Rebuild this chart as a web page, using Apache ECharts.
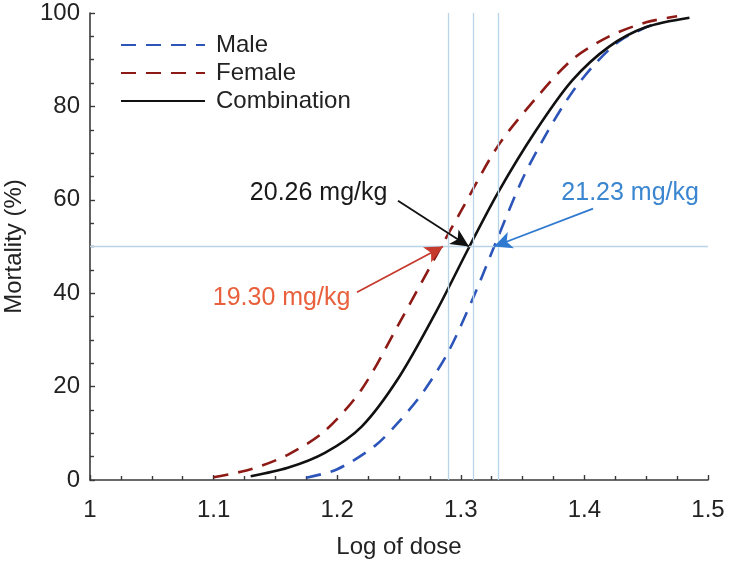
<!DOCTYPE html>
<html>
<head>
<meta charset="utf-8">
<script src="https://cdn.jsdelivr.net/npm/echarts@6/dist/echarts.min.js"></script>
<style>html,body{margin:0;padding:0;background:#fff}#c{width:729px;height:564px}</style>
</head>
<body>
<div id="c"></div>
<script>
// ---- data ----
const seriesNames = ['Male', 'Female', 'Combination'];
const maleX = [1.175, 1.20, 1.23, 1.25, 1.27, 1.29, 1.31, 1.327, 1.35, 1.37, 1.39, 1.41, 1.43, 1.455];
const maleY = [0.5, 2.3, 7.2, 12.5, 19, 27.5, 39, 50, 64.5, 74.5, 83, 89.5, 94.3, 97.5];
const femaleX = [1.10, 1.13, 1.16, 1.19, 1.22, 1.25, 1.28, 1.30, 1.33, 1.36, 1.39, 1.42, 1.45, 1.475];
const femaleY = [0.6, 2.3, 5.4, 10.5, 19.5, 33.5, 48, 57.5, 71.5, 81.5, 90, 95, 98, 99.3];
const comboX = [1.13, 1.16, 1.19, 1.22, 1.25, 1.28, 1.307, 1.33, 1.36, 1.39, 1.42, 1.45, 1.485];
const comboY = [0.8, 2.6, 5.8, 11.5, 22, 36, 50, 61.5, 74.5, 85.5, 92.8, 97, 99];
// LD50 reference values (log dose) and the 50% line
const ld50Log = [1.2856, 1.3066, 1.3269];
const ld50Labels = ['19.30 mg/kg', '20.26 mg/kg', '21.23 mg/kg'];
const midMortality = 50;
// annotation label anchors [x, y] and arrow tails [x, y]
const labelAnchors = [[1.155, 38.9], [1.185, 61.5], [1.437, 61.5]];
const arrowTails = [[1.216, 40.2], [1.2492, 59.8], [1.407, 58.1]];

const xMin = 1, xMax = 1.5, xInterval = 0.1;
const yMin = 0, yMax = 100, yInterval = 20;

// ---- styles ----
const FONT = '"Liberation Sans", Arial, sans-serif';
const colMale = '#2d55b9', colFemale = '#8e1a16', colCombo = '#111111';
const refCol = '#b9d4e8';
const labelCols = ['#e8603c', '#1a1a1a', '#3a86d0'];
const arrowCols = ['#c63a2e', '#111111', '#2f7ad0'];

const zip = (xs, ys) => xs.map((x, i) => [x, ys[i]]);

const chart = echarts.init(document.getElementById('c'), null, {renderer: 'canvas'});

const axisCommon = {
  axisLine: {show: true, lineStyle: {color: '#3a3a3a', width: 1.6}},
  axisTick: {show: true, inside: true, length: 5, lineStyle: {color: '#3a3a3a', width: 1.4}},
  minorTick: {show: true, splitNumber: 4, length: 4, lineStyle: {color: '#3a3a3a', width: 1.4}},
  splitLine: {show: false},
  minorSplitLine: {show: false},
  axisLabel: {fontFamily: FONT, fontSize: 24, color: '#222'},
  nameTextStyle: {fontFamily: FONT, fontSize: 24, color: '#222'}
};

const lineSeries = (name, xs, ys, color, dashed, z) => ({
  name, type: 'line', data: zip(xs, ys), smooth: 0.3,
  symbol: 'none', showSymbol: false, z,
  lineStyle: {color, width: 2.6, type: dashed ? [15, 10] : 'solid'},
  itemStyle: {color}
});

const option = {
  animation: false,
  backgroundColor: '#fff',
  grid: {left: 90, right: 21, top: 13, bottom: 84, containLabel: false, outerBoundsMode: 'none'},
  legend: {
    orient: 'vertical', left: 120, top: 33, padding: 0,
    itemWidth: 84, itemHeight: 14, itemGap: 4,
    data: seriesNames,
    itemStyle: {opacity: 0},
    textStyle: {fontFamily: FONT, fontSize: 24, color: '#222', padding: [0, 0, 0, 6]}
  },
  xAxis: Object.assign({}, axisCommon, {
    type: 'value', min: xMin, max: xMax, interval: xInterval,
    name: 'Log of dose', nameLocation: 'middle', nameGap: 55,
    axisLabel: Object.assign({}, axisCommon.axisLabel, {margin: 18,
      formatter: v => String(Math.round(v * 10) / 10)})
  }),
  yAxis: Object.assign({}, axisCommon, {
    type: 'value', min: yMin, max: yMax, interval: yInterval,
    name: 'Mortality (%)', nameLocation: 'middle', nameGap: 64,
    axisLabel: Object.assign({}, axisCommon.axisLabel, {margin: 10})
  }),
  series: [
    {
      name: 'refs', type: 'line', data: [], z: 1, silent: true,
      markLine: {
        silent: true, symbol: ['none', 'none'], animation: false,
        label: {show: false},
        lineStyle: {color: refCol, width: 1.3, type: 'solid'},
        data: ld50Log.map(v => ({xAxis: v})).concat([{yAxis: midMortality}])
      }
    },
    lineSeries('Male', maleX, maleY, colMale, true, 3),
    lineSeries('Female', femaleX, femaleY, colFemale, true, 3),
    lineSeries('Combination', comboX, comboY, colCombo, false, 4),
    {
      name: 'annot', type: 'line', data: [], z: 6, silent: true,
      markLine: {
        silent: true, symbol: ['none', 'arrow'], symbolSize: [13, 18], animation: false,
        label: {show: false},
        data: arrowTails.map((t, i) => [
          {coord: t, lineStyle: {color: arrowCols[i], width: 1.8, type: 'solid'}},
          {coord: [ld50Log[i], midMortality]}
        ])
      },
      markPoint: {
        silent: true, symbol: 'circle', symbolSize: 0, animation: false,
        data: labelAnchors.map((p, i) => ({
          coord: p, value: ld50Labels[i],
          label: {show: true, position: 'inside', formatter: ld50Labels[i],
            fontFamily: FONT, fontSize: 25, color: labelCols[i]}
        }))
      }
    }
  ]
};
chart.setOption(option);
</script>
</body>
</html>
